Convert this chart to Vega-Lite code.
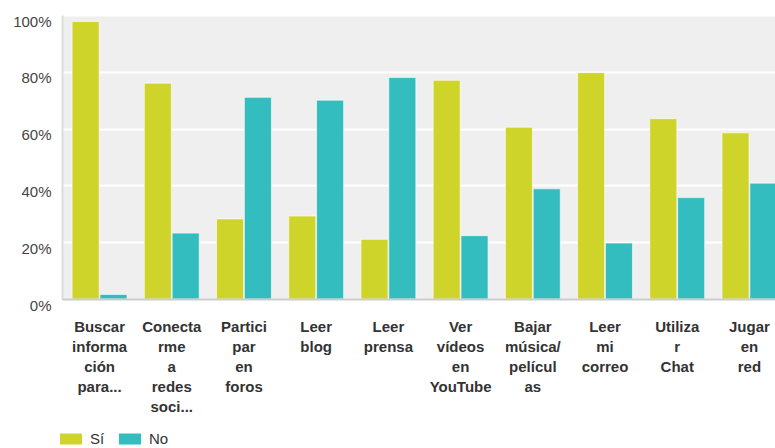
{
  "$schema": "https://vega.github.io/schema/vega-lite/v6.json",
  "width": 725,
  "height": 284,
  "autosize": {"type": "none"},
  "padding": {"left": 62, "top": 15, "right": 0, "bottom": 149},
  "background": "#ffffff",
  "config": {
    "view": {"fill": "#efefef", "stroke": null},
    "font": "Liberation Sans"
  },
  "data": {
    "values": [
      {"actividad": "Buscar|informa|ción|para...", "respuesta": "Sí", "valor": 0.977},
      {"actividad": "Buscar|informa|ción|para...", "respuesta": "No", "valor": 0.016},
      {"actividad": "Conecta|rme|a|redes|soci...", "respuesta": "Sí", "valor": 0.76},
      {"actividad": "Conecta|rme|a|redes|soci...", "respuesta": "No", "valor": 0.232},
      {"actividad": "Partici|par|en|foros", "respuesta": "Sí", "valor": 0.282},
      {"actividad": "Partici|par|en|foros", "respuesta": "No", "valor": 0.71},
      {"actividad": "Leer|blog", "respuesta": "Sí", "valor": 0.292},
      {"actividad": "Leer|blog", "respuesta": "No", "valor": 0.70},
      {"actividad": "Leer|prensa", "respuesta": "Sí", "valor": 0.21},
      {"actividad": "Leer|prensa", "respuesta": "No", "valor": 0.78},
      {"actividad": "Ver|vídeos|en|YouTube", "respuesta": "Sí", "valor": 0.77},
      {"actividad": "Ver|vídeos|en|YouTube", "respuesta": "No", "valor": 0.223},
      {"actividad": "Bajar|música/|películ|as", "respuesta": "Sí", "valor": 0.605},
      {"actividad": "Bajar|música/|películ|as", "respuesta": "No", "valor": 0.388},
      {"actividad": "Leer|mi|correo", "respuesta": "Sí", "valor": 0.797},
      {"actividad": "Leer|mi|correo", "respuesta": "No", "valor": 0.197},
      {"actividad": "Utiliza|r|Chat", "respuesta": "Sí", "valor": 0.635},
      {"actividad": "Utiliza|r|Chat", "respuesta": "No", "valor": 0.357},
      {"actividad": "Jugar|en|red", "respuesta": "Sí", "valor": 0.585},
      {"actividad": "Jugar|en|red", "respuesta": "No", "valor": 0.408}
    ]
  },
  "mark": {"type": "bar", "stroke": "#ffffff", "strokeOpacity": 0.6, "strokeWidth": 1},
  "encoding": {
    "x": {
      "field": "actividad",
      "type": "nominal",
      "sort": null,
      "scale": {"paddingInner": 0.24, "paddingOuter": 0.14},
      "axis": {
        "title": null,
        "labelAngle": 0,
        "labelExpr": "split(datum.label, '|')",
        "labelFont": "Liberation Sans",
        "labelFontWeight": "bold",
        "labelFontSize": 15,
        "labelColor": "#333333",
        "labelLineHeight": 20,
        "labelPadding": 20,
        "labelLimit": 0,
        "labelOverlap": false,
        "ticks": false,
        "grid": false,
        "domainColor": "#cccccc",
        "domainWidth": 2,
        "zindex": 1
      }
    },
    "xOffset": {
      "field": "respuesta",
      "type": "nominal",
      "sort": ["Sí", "No"],
      "scale": {"paddingInner": 0.03}
    },
    "y": {
      "field": "valor",
      "type": "quantitative",
      "scale": {"domain": [0, 1], "nice": false},
      "axis": {
        "title": null,
        "values": [0, 0.2, 0.4, 0.6, 0.8, 1],
        "format": ".0%",
        "ticks": false,
        "domainColor": "#dddddd",
        "domainWidth": 2,
        "gridColor": "#ffffff",
        "gridWidth": 2,
        "labelFont": "Liberation Sans",
        "labelFontSize": 15,
        "labelColor": "#444444",
        "labelPadding": 11,
        "labelOffset": 6
      }
    },
    "color": {
      "field": "respuesta",
      "type": "nominal",
      "scale": {"domain": ["Sí", "No"], "range": ["#cfd42a", "#33bdbe"]},
      "legend": {
        "orient": "none",
        "legendX": -2,
        "legendY": 413,
        "direction": "horizontal",
        "title": null,
        "symbolType": "M-1,-0.5H1V0.5H-1Z",
        "symbolSize": 484,
        "symbolStrokeWidth": 0,
        "symbolOpacity": 1,
        "labelFont": "Liberation Sans",
        "labelFontSize": 15,
        "labelColor": "#333333",
        "labelOffset": 8,
        "columnPadding": 14
      }
    }
  }
}
